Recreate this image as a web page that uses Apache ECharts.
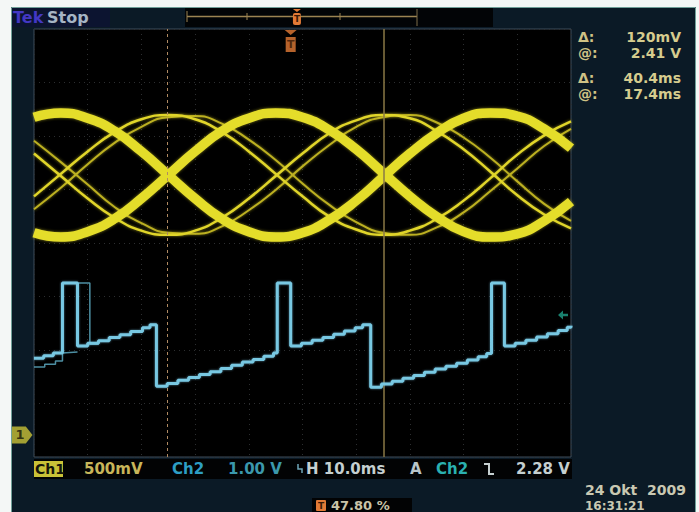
<!DOCTYPE html>
<html>
<head>
<meta charset="utf-8">
<title>Tek Stop – Ch1 / Ch2</title>
<script src="https://cdn.jsdelivr.net/npm/echarts@6/dist/echarts.min.js"></script>
<style>
  html, body { margin: 0; padding: 0; background: #ffffff; }
  #scope { width: 699px; height: 512px; }
</style>
</head>
<body>
<div id="scope"></div>
<script>
// ---- acquisition data -------------------------------------------------
// sample times (ms from left edge of the record, 10 ms/div)
const timeMs = [0, 5, 10, 15, 20, 25, 30, 35, 40, 45, 50, 55, 60, 65, 70, 75, 80, 85, 90, 95, 100];

// Ch1 (V): two dominant persistence bands, opposite phase
const ch1BandA = [2.97, 3.01, 2.96, 2.84, 2.65, 2.43, 2.21, 2.02, 1.90, 1.85, 1.89, 2.01, 2.19, 2.41, 2.63, 2.82, 2.96, 3.01, 2.98, 2.86, 2.68];
const ch1BandB = [1.89, 1.85, 1.90, 2.02, 2.21, 2.43, 2.65, 2.84, 2.96, 3.01, 2.97, 2.85, 2.67, 2.45, 2.23, 2.04, 1.90, 1.85, 1.88, 2.00, 2.18];
// Ch1 (V): thinner traces, shifted a quarter period
const ch1TraceC  = [2.23, 2.44, 2.65, 2.83, 2.95, 2.99, 2.95, 2.83, 2.65, 2.44, 2.23, 2.04, 1.92, 1.87, 1.91, 2.02, 2.19, 2.40, 2.62, 2.80, 2.93];
const ch1TraceD  = [2.63, 2.42, 2.21, 2.03, 1.91, 1.87, 1.91, 2.03, 2.21, 2.42, 2.63, 2.82, 2.94, 2.99, 2.96, 2.84, 2.67, 2.46, 2.24, 2.06, 1.93];
const ch1TraceC2 = [2.11, 2.31, 2.53, 2.73, 2.88, 2.97, 2.98, 2.91, 2.76, 2.57, 2.35, 2.15, 1.99, 1.89, 1.87, 1.94, 2.08, 2.28, 2.49, 2.70, 2.86];
const ch1TraceD2 = [2.75, 2.55, 2.34, 2.13, 1.98, 1.89, 1.88, 1.95, 2.10, 2.29, 2.51, 2.71, 2.88, 2.97, 2.99, 2.92, 2.78, 2.59, 2.37, 2.16, 2.00];

// Ch2 (V): staircase ramp with pulses, each entry = [time ms, new level]
const ch2Steps = [
  [0, 1.47], [1.8, 1.52], [3.6, 1.57], [5.3, 2.88], [8.1, 1.70],
  [10.0, 1.75], [12.0, 1.80], [14.0, 1.86], [16.0, 1.91], [18.0, 1.97], [20.2, 2.04], [21.6, 2.10],
  [22.8, 0.95], [24.8, 1.00], [26.8, 1.06], [28.8, 1.11], [30.8, 1.17], [32.8, 1.22], [34.8, 1.28],
  [36.8, 1.34], [38.8, 1.40], [40.8, 1.45], [42.8, 1.51], [44.6, 1.57], [45.3, 2.88], [47.8, 1.70],
  [49.8, 1.75], [51.8, 1.81], [53.8, 1.86], [55.8, 1.92], [57.8, 1.98], [59.8, 2.04], [61.2, 2.10],
  [62.7, 0.93], [64.7, 0.99], [66.7, 1.04], [68.7, 1.10], [70.7, 1.15], [72.7, 1.21], [74.7, 1.27],
  [76.7, 1.32], [78.7, 1.38], [80.7, 1.44], [82.7, 1.50], [84.3, 1.56], [85.2, 2.88], [87.6, 1.70],
  [89.6, 1.75], [91.6, 1.81], [93.6, 1.87], [95.6, 1.93], [97.6, 1.99], [99.3, 2.05], [100, 2.08]
];
// Ch2 (V): fainter earlier acquisitions at the left edge
const ch2GhostSteps = [[0, 1.31], [2.0, 1.36], [4.0, 1.42], [5.3, 2.88], [10.4, 1.74], [12.0, 1.78]];
const ch2GhostBase  = [[5.3, 1.57], [8.1, 1.59]];

// cursors, trigger and readouts
const cursor1Ms = 24.8;
const cursor2Ms = 65.2;
const triggerMs = 47.8;
const triggerLevelV = 2.28;
const readouts = [['\u0394:', '120mV'], ['@:', '2.41 V'], ['\u0394:', '40.4ms'], ['@:', '17.4ms']];
const statusItems = [
  ['500mV', 84, '#c8b65a'], ['Ch2', 172, '#2d9ec4'], ['1.00 V', 228, '#3b98ac'],
  ['H 10.0ms', 306, '#c5cfd0'], ['A', 410, '#b8c4c8'], ['Ch2', 436, '#2ab0b0'], ['2.28 V', 516, '#c5cfd0']
];
const triggerPercent = '47.80 %';
const dateText = '24 Okt  2009';
const timeText = '16:31:21';

// ---- drawing ----------------------------------------------------------
const FONT = "bold 15px 'DejaVu Sans', sans-serif";
const READ_FONT = "bold 14px 'DejaVu Sans', sans-serif";
const FOOT_FONT = "bold 13px 'DejaVu Sans', sans-serif";
const TIME_FONT = "bold 12px 'DejaVu Sans', sans-serif";
const pts = arr => timeMs.map((t, i) => [t, arr[i]]);

function ch1Line(name, arr, color, width, z) {
  return {
    type: 'line', name, xAxisIndex: 0, yAxisIndex: 1, data: pts(arr),
    smooth: true, showSymbol: false, silent: true, z,
    lineStyle: { color, width, shadowBlur: 3, shadowColor: 'rgba(230,220,40,0.55)' }
  };
}

function txt(text, x, y, fill, font) {
  return {
    type: 'text', x, y, z: 50,
    style: { text, fill, font: font || FONT, textAlign: 'left', align: 'left', textVerticalAlign: 'middle', verticalAlign: 'middle' }
  };
}

const recL = 187, recR = 417;
const recT = recL + (recR - recL) * triggerMs / 100;
const TEK_FONT = "bold 16px 'DejaVu Sans', sans-serif";
const SMALL_FONT = "bold 9px 'DejaVu Sans', sans-serif";

const graphics = [
  // outer white margin and frame line
  { type: 'rect', z: 60, shape: { x: 0, y: 0, width: 11, height: 512 }, style: { fill: '#f4f7f6' } },
  { type: 'rect', z: 60, shape: { x: 0, y: 0, width: 699, height: 7 }, style: { fill: '#f4f7f6' } },
  { type: 'rect', z: 60, shape: { x: 696, y: 0, width: 3, height: 512 }, style: { fill: '#f4f7f6' } },
  { type: 'polyline', z: 61, shape: { points: [[11.5, 512], [11.5, 7.5], [695.5, 7.5], [695.5, 512]] }, style: { stroke: '#6f9f98', fill: null, lineWidth: 1 } },

  // top bar
  { type: 'rect', z: 40, shape: { x: 12, y: 8, width: 98, height: 19 }, style: { fill: '#0c1430' } },
  txt('Tek', 13, 17, '#4338c4', TEK_FONT),
  txt('Stop', 47, 17, '#a6b5c4', TEK_FONT),
  { type: 'rect', z: 40, shape: { x: 185, y: 8, width: 308, height: 19 }, style: { fill: '#020406' } },
  { type: 'line', z: 41, shape: { x1: recL, y1: 16.5, x2: recR, y2: 16.5 }, style: { stroke: '#9c8452', lineWidth: 1.5 } },
  { type: 'line', z: 41, shape: { x1: recL, y1: 11, x2: recL, y2: 22 }, style: { stroke: '#9c8452', lineWidth: 1 } },
  { type: 'line', z: 41, shape: { x1: 247, y1: 13, x2: 247, y2: 20 }, style: { stroke: '#9c8452', lineWidth: 1 } },
  { type: 'line', z: 41, shape: { x1: 340, y1: 13, x2: 340, y2: 20 }, style: { stroke: '#9c8452', lineWidth: 1 } },
  { type: 'line', z: 41, shape: { x1: recR, y1: 9, x2: recR, y2: 26 }, style: { stroke: '#7c6c48', lineWidth: 1 } },
  { type: 'polygon', z: 42, shape: { points: [[recT - 4, 9], [recT + 4, 9], [recT, 12]] }, style: { fill: '#e27a36' } },
  { type: 'rect', z: 42, shape: { x: recT - 4, y: 13, width: 8, height: 12, r: 2 }, style: { fill: '#e27a36' } },
  { type: 'text', z: 43, x: recT, y: 19, style: { text: 'T', fill: '#3a1a06', font: SMALL_FONT, textAlign: 'center', align: 'center', textVerticalAlign: 'middle', verticalAlign: 'middle' } },

  // status bar
  { type: 'rect', z: 40, shape: { x: 34, y: 459, width: 538, height: 20 }, style: { fill: '#020304' } },
  { type: 'rect', z: 41, shape: { x: 34, y: 461, width: 29, height: 16 }, style: { fill: '#c9c237' } },
  txt('Ch1', 35, 469, '#15150a', "bold 14px 'DejaVu Sans', sans-serif"),
  { type: 'polyline', z: 41, shape: { points: [[298, 464], [298, 469], [302, 469], [302, 473]] }, style: { stroke: '#6fa6b8', fill: null, lineWidth: 1.5 } },
  { type: 'polyline', z: 41, shape: { points: [[484, 464], [489, 464], [489, 474], [494, 474]] }, style: { stroke: '#c5cfd0', fill: null, lineWidth: 2 } },

  // trigger position readout (bottom edge)
  { type: 'rect', z: 40, shape: { x: 312, y: 498, width: 100, height: 14 }, style: { fill: '#020304' } },
  { type: 'rect', z: 41, shape: { x: 316, y: 500, width: 10, height: 11, r: 1 }, style: { fill: '#e27a36' } },
  { type: 'text', z: 42, x: 321, y: 505.5, style: { text: 'T', fill: '#3a1a06', font: SMALL_FONT, textAlign: 'center', align: 'center', textVerticalAlign: 'middle', verticalAlign: 'middle' } },
  txt(triggerPercent, 331, 505, '#c9c4a8', FOOT_FONT),

  // date / time
  txt(dateText, 585, 490, '#c9c8b2', "bold 14px 'DejaVu Sans', sans-serif"),
  txt(timeText, 585, 505.5, '#c9c8b2', TIME_FONT)
];

statusItems.forEach(([s, x, c]) => graphics.push(txt(s, x, 469, c)));
const readY = [37, 53, 78, 94];
readouts.forEach(([k, v], i) => {
  graphics.push(txt(k, 578, readY[i], '#cfc285', READ_FONT));
  graphics.push({
    type: 'text', z: 50, x: 681, y: readY[i],
    style: { text: v, fill: '#d6cc8e', font: READ_FONT, textAlign: 'right', align: 'right', textVerticalAlign: 'middle', verticalAlign: 'middle' }
  });
});

const gridLine = { show: true, lineStyle: { color: '#2c2e30', width: 1, type: [1, 4] } };
const hidden = { axisLine: { show: false }, axisTick: { show: false }, axisLabel: { show: false } };

const option = {
  animation: false,
  backgroundColor: '#0b1a26',
  grid: {
    left: 34, top: 29, width: 537, height: 428,
    show: true, backgroundColor: '#000000', borderColor: '#3e4d5a', borderWidth: 1
  },
  xAxis: Object.assign({ type: 'value', min: 0, max: 100, interval: 10, splitLine: gridLine }, hidden),
  yAxis: [
    Object.assign({ type: 'value', min: -4, max: 4, interval: 1, splitLine: gridLine }, hidden),          // graticule divisions
    Object.assign({ type: 'value', min: -0.206, max: 3.794, splitLine: { show: false } }, hidden),      // Ch1, 500 mV/div
    Object.assign({ type: 'value', min: -0.374, max: 7.626, splitLine: { show: false } }, hidden)       // Ch2, 1.00 V/div
  ],
  graphic: { elements: graphics },
  series: [
    {
      type: 'line', name: 'cursors', xAxisIndex: 0, yAxisIndex: 0, data: [], z: 1, silent: true,
      markLine: {
        symbol: 'none', silent: true, label: { show: false },
        data: [
          { xAxis: cursor1Ms, lineStyle: { color: '#b08a62', width: 1, type: [3, 3] } },
          { xAxis: cursor2Ms, lineStyle: { color: '#8a7846', width: 1.5, type: 'solid' } }
        ]
      }
    },
    ch1Line('Ch1 C2', ch1TraceC2, '#bcb020', 2, 2),
    ch1Line('Ch1 D2', ch1TraceD2, '#bcb020', 2, 2),
    ch1Line('Ch1 C', ch1TraceC, '#e0d52a', 2.5, 3),
    ch1Line('Ch1 D', ch1TraceD, '#e0d52a', 2.5, 3),
    ch1Line('Ch1 A', ch1BandA, '#e4dd2c', 9.5, 4),
    ch1Line('Ch1 B', ch1BandB, '#e4dd2c', 9.5, 4),
    {
      type: 'line', name: 'Ch2 ghost', xAxisIndex: 0, yAxisIndex: 2, data: ch2GhostSteps, step: 'end',
      showSymbol: false, silent: true, z: 5, lineStyle: { color: '#5aa8c0', width: 1.5, opacity: 0.85 }
    },
    {
      type: 'line', name: 'Ch2 ghost base', xAxisIndex: 0, yAxisIndex: 2, data: ch2GhostBase,
      showSymbol: false, silent: true, z: 5, lineStyle: { color: '#5aa8c0', width: 1.5, opacity: 0.85 }
    },
    {
      type: 'line', name: 'Ch2', xAxisIndex: 0, yAxisIndex: 2, data: ch2Steps, step: 'end',
      showSymbol: false, silent: true, z: 6,
      lineStyle: { color: '#78c8e2', width: 3, shadowBlur: 2, shadowColor: 'rgba(120,200,230,0.6)' }
    },
    // trigger position marker on the top edge
    {
      type: 'scatter', name: 'trigger', xAxisIndex: 0, yAxisIndex: 0, data: [[triggerMs, 4]], clip: false, z: 10, silent: true,
      symbol: 'path://M0,0 L12,0 L6,5 Z M1,7 L11,7 L11,22 L1,22 Z', symbolSize: [12, 22], symbolOffset: [0, 12],
      itemStyle: { color: '#e27a36' },
      label: { show: true, position: 'inside', offset: [0, 3], formatter: 'T', color: '#3a1a06', fontSize: 11, fontWeight: 'bold', fontFamily: 'DejaVu Sans' }
    },
    // Ch1 ground marker
    {
      type: 'scatter', name: 'ch1 ground', xAxisIndex: 0, yAxisIndex: 1, data: [[0, 0]], clip: false, z: 10, silent: true,
      symbol: 'path://M0,0 L15,0 L22,8.5 L15,17 L0,17 Z', symbolSize: [21, 17], symbolOffset: [-12, 0],
      itemStyle: { color: '#c9c237' },
      label: { show: true, position: 'inside', offset: [-2, 0], formatter: '1', color: '#15150a', fontSize: 13, fontWeight: 'bold', fontFamily: 'DejaVu Sans' }
    },
    // trigger level arrow (Ch2)
    {
      type: 'scatter', name: 'trigger level', xAxisIndex: 0, yAxisIndex: 2, data: [[100, triggerLevelV]], clip: false, z: 10, silent: true,
      symbol: 'path://M0,5 L6,0 L6,3.5 L12,3.5 L12,6.5 L6,6.5 L6,10 Z', symbolSize: [10, 9], symbolOffset: [-8, 0],
      itemStyle: { color: '#1fa08a' }
    }
  ]
};

const chart = echarts.init(document.getElementById('scope'), null, { renderer: 'svg', width: 699, height: 512 });
chart.setOption(option);
</script>
</body>
</html>
